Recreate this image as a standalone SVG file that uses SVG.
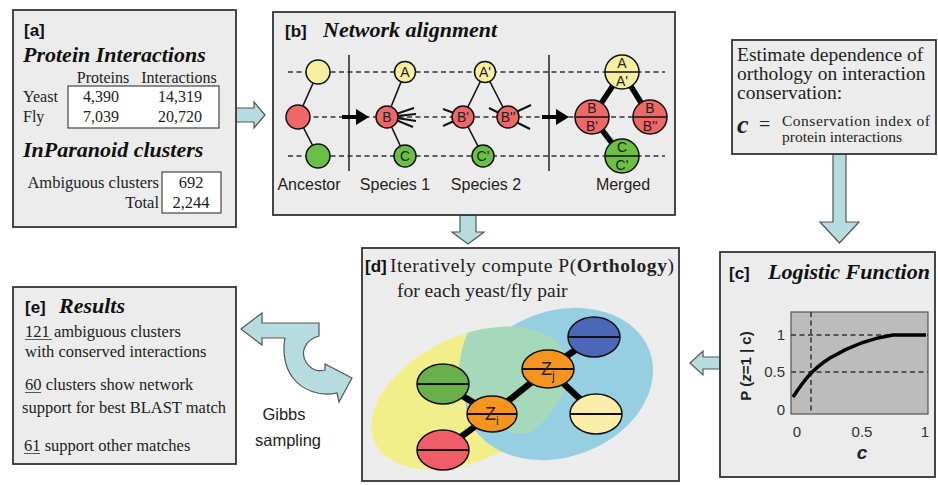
<svg xmlns="http://www.w3.org/2000/svg" width="938" height="485" viewBox="0 0 938 485">
<style>
.panel{fill:#ececec;stroke:#333;stroke-width:1.8}
.ser{font-family:"Liberation Serif","Times New Roman",serif;fill:#222}
.sans{font-family:"Liberation Sans",Arial,sans-serif;fill:#222}
.ttl{font-family:"Liberation Serif","Times New Roman",serif;font-weight:bold;font-style:italic;font-size:22px;fill:#111}
.tag{font-family:"Liberation Sans",Arial,sans-serif;font-weight:bold;font-size:17px;fill:#111}
.tbl{fill:#fff;stroke:#444;stroke-width:1.2}
.barrow{fill:#b7dce0;stroke:#555;stroke-width:1.2}
.dash{stroke:#333;stroke-width:1.5;stroke-dasharray:5 3.5;fill:none}
.thin{stroke:#111;stroke-width:1.6;fill:none}
.stub{stroke:#111;stroke-width:2;fill:none}
.thick{stroke:#000;stroke-width:5.5;fill:none}
.nd{stroke:#111;stroke-width:1.5}
.y{fill:#f6efa0}.r{fill:#ee6868}.g{fill:#6cbf45}
.lbl{font-family:"Liberation Sans",Arial,sans-serif;font-size:14px;fill:#222;text-anchor:middle}
.ax{font-family:"Liberation Sans",Arial,sans-serif;font-size:15px;fill:#333}
</style>
<defs>
<clipPath id="blueclip"><ellipse cx="559" cy="384" rx="96.5" ry="73" transform="rotate(-20 559 384)"/></clipPath>
</defs>
<rect width="938" height="485" fill="#fff"/>

<!-- connectors -->
<g id="connectors">
<polygon class="barrow" points="228,108 254,108 254,102 265,115 254,128 254,122 228,122"/>
<polygon class="barrow" points="460,215 476,215 476,232 484,232 468,244 452,232 460,232"/>
<polygon class="barrow" points="833,154 846,154 846,222 859,222 839.5,243 820,222 833,222"/>
<polygon class="barrow" points="720,357 703,357 703,351 690,363 703,375 703,369 720,369"/>
<path class="barrow" d="M241,329 L262,313 L262,323 L319,323 L319,336 C305,340 300,352 306,362 C311,370 318,372 325,370 L325,364 L352,378 L339,402 L337,393 C320,397 302,390 293,378 C283,365 283,348 285,338 L262,338 L262,345 Z"/>
<text class="sans" x="284" y="420" font-size="16.5" fill="#333" text-anchor="middle">Gibbs</text>
<text class="sans" x="288" y="446" font-size="16.5" fill="#333" text-anchor="middle">sampling</text>
</g>

<!-- panel a -->
<g id="panel-a">
<rect class="panel" x="13" y="10" width="223" height="217"/>
<text class="tag" x="24" y="36">[a]</text>
<text class="ttl" x="23" y="62">Protein Interactions</text>
<text class="ser" x="103" y="83" font-size="16" text-anchor="middle">Proteins</text>
<text class="ser" x="179" y="83" font-size="16" text-anchor="middle">Interactions</text>
<rect class="tbl" x="68" y="86" width="151" height="42"/>
<text class="ser" x="23" y="102" font-size="16">Yeast</text>
<text class="ser" x="23" y="122" font-size="16">Fly</text>
<text class="ser" x="101" y="102" font-size="16" text-anchor="middle">4,390</text>
<text class="ser" x="101" y="122" font-size="16" text-anchor="middle">7,039</text>
<text class="ser" x="180" y="102" font-size="16" text-anchor="middle">14,319</text>
<text class="ser" x="180" y="122" font-size="16" text-anchor="middle">20,720</text>
<text class="ttl" x="23" y="157">InParanoid clusters</text>
<text class="ser" x="159" y="188" font-size="16.5" text-anchor="end">Ambiguous clusters</text>
<text class="ser" x="159" y="208" font-size="16.5" text-anchor="end">Total</text>
<rect class="tbl" x="162" y="172" width="59" height="41"/>
<text class="ser" x="191" y="188" font-size="16.5" text-anchor="middle">692</text>
<text class="ser" x="191" y="208" font-size="16.5" text-anchor="middle">2,244</text>
</g>

<!-- panel b -->
<g id="panel-b">
<rect class="panel" x="273" y="12" width="402" height="203"/>
<text class="tag" x="285" y="37">[b]</text>
<text class="ttl" x="323" y="37">Network alignment</text>
<line class="dash" x1="288" y1="72" x2="665" y2="72"/>
<line class="dash" x1="288" y1="117" x2="665" y2="117"/>
<line class="dash" x1="288" y1="156" x2="665" y2="156"/>
<line x1="349" y1="55" x2="349" y2="171" stroke="#222" stroke-width="1.5"/>
<line x1="549" y1="55" x2="549" y2="171" stroke="#222" stroke-width="1.5"/>
<!-- ancestor -->
<line class="thin" x1="318" y1="72" x2="298" y2="117"/>
<line class="thin" x1="298" y1="117" x2="318" y2="156"/>
<circle class="nd y" cx="318" cy="72" r="12"/>
<circle class="nd r" cx="298" cy="117" r="12"/>
<circle class="nd g" cx="318" cy="156" r="12"/>
<polygon points="342,115 356,115 356,109 369,117 356,125 356,119 342,119" fill="#000"/>
<!-- species 1 -->
<line class="thin" x1="405" y1="72" x2="387" y2="117"/>
<line class="thin" x1="387" y1="117" x2="405" y2="156"/>
<line class="stub" x1="396" y1="114" x2="414" y2="108"/>
<line class="stub" x1="397" y1="116" x2="416" y2="114"/>
<line class="stub" x1="397" y1="118" x2="416" y2="121"/>
<line class="stub" x1="396" y1="120" x2="413" y2="127"/>
<circle class="nd y" cx="405" cy="72" r="10.5"/>
<circle class="nd r" cx="387" cy="117" r="11"/>
<circle class="nd g" cx="405" cy="156" r="11"/>
<text class="lbl" x="405" y="77">A</text>
<text class="lbl" x="387" y="122">B</text>
<text class="lbl" x="405" y="161">C</text>
<!-- species 2 -->
<line class="thin" x1="485" y1="72" x2="463" y2="117"/>
<line class="thin" x1="485" y1="72" x2="508" y2="117"/>
<line class="thin" x1="463" y1="117" x2="483" y2="156"/>
<line class="stub" x1="454" y1="113" x2="443" y2="109"/>
<line class="stub" x1="454" y1="121" x2="443" y2="126"/>
<line class="stub" x1="499" y1="113" x2="489" y2="108"/>
<line class="stub" x1="516" y1="112" x2="531" y2="105"/>
<line class="stub" x1="516" y1="122" x2="530" y2="129"/>
<circle class="nd y" cx="485" cy="72" r="10.5"/>
<circle class="nd r" cx="463" cy="117" r="11"/>
<circle class="nd r" cx="508" cy="117" r="11"/>
<circle class="nd g" cx="483" cy="156" r="11"/>
<text class="lbl" x="485" y="77">A'</text>
<text class="lbl" x="463" y="122">B'</text>
<text class="lbl" x="508" y="122">B''</text>
<text class="lbl" x="483" y="161">C'</text>
<polygon points="542,115 556,115 556,109 569,117 556,125 556,119 542,119" fill="#000"/>
<!-- merged -->
<line class="thick" x1="622" y1="72" x2="592" y2="117"/>
<line class="thick" x1="622" y1="72" x2="650" y2="117"/>
<line class="thick" x1="592" y1="117" x2="622" y2="156"/>
<circle class="nd y" cx="622" cy="72" r="17"/>
<circle class="nd r" cx="592" cy="117" r="17"/>
<circle class="nd r" cx="650" cy="117" r="17"/>
<circle class="nd g" cx="622" cy="156" r="17"/>
<line x1="605" y1="72" x2="639" y2="72" stroke="#111" stroke-width="1.3"/>
<line x1="575" y1="117" x2="609" y2="117" stroke="#111" stroke-width="1.3"/>
<line x1="633" y1="117" x2="667" y2="117" stroke="#111" stroke-width="1.3"/>
<line x1="605" y1="156" x2="639" y2="156" stroke="#111" stroke-width="1.3"/>
<text class="lbl" x="622" y="68">A</text>
<text class="lbl" x="622" y="86">A'</text>
<text class="lbl" x="592" y="113">B</text>
<text class="lbl" x="592" y="131">B'</text>
<text class="lbl" x="650" y="113">B</text>
<text class="lbl" x="650" y="131">B''</text>
<text class="lbl" x="622" y="152">C</text>
<text class="lbl" x="622" y="170">C'</text>
<text class="sans" x="309" y="190" font-size="16" text-anchor="middle">Ancestor</text>
<text class="sans" x="395" y="190" font-size="16" text-anchor="middle">Species 1</text>
<text class="sans" x="486" y="190" font-size="16" text-anchor="middle">Species 2</text>
<text class="sans" x="623" y="190" font-size="16" text-anchor="middle">Merged</text>
</g>

<!-- estimate panel -->
<g id="panel-estimate">
<rect class="panel" x="732" y="40" width="204" height="114"/>
<text class="ser" x="737" y="61" font-size="19.5">Estimate dependence of</text>
<text class="ser" x="737" y="80" font-size="19.5">orthology on interaction</text>
<text class="ser" x="737" y="99" font-size="19.5">conservation:</text>
<text class="ser" x="737" y="133" font-size="26" font-weight="bold" font-style="italic" fill="#111">c</text>
<text class="ser" x="759" y="131" font-size="20">=</text>
<text class="ser" x="782" y="126" font-size="15.5" textLength="148" lengthAdjust="spacing">Conservation index of</text>
<text class="ser" x="782" y="142" font-size="15.5">protein interactions</text>
</g>

<!-- panel c -->
<g id="panel-c">
<rect class="panel" x="720" y="252" width="215" height="225"/>
<text class="tag" x="729" y="279">[c]</text>
<text class="ttl" x="768" y="279">Logistic Function</text>
<rect x="791" y="312" width="137" height="102" fill="#bcbcbc" stroke="#555" stroke-width="1.2"/>
<line class="dash" x1="791" y1="335" x2="928" y2="335" stroke-width="1.2"/>
<line class="dash" x1="791" y1="372" x2="928" y2="372" stroke-width="1.2"/>
<line class="dash" x1="811" y1="312" x2="811" y2="414" stroke-width="1.2"/>
<path d="M793,397 C803,382 811,370 830,358 C850,346 872,338 893,335 L926,335" fill="none" stroke="#000" stroke-width="3.5"/>
<text class="ax" x="785" y="340" text-anchor="end">1</text>
<text class="ax" x="785" y="377" text-anchor="end">0.5</text>
<text class="ax" x="785" y="415" text-anchor="end">0</text>
<text class="ax" x="797" y="437" text-anchor="middle">0</text>
<text class="ax" x="862" y="437" text-anchor="middle">0.5</text>
<text class="ax" x="925" y="437" text-anchor="middle">1</text>
<text class="sans" x="862" y="459" font-size="19" font-weight="bold" font-style="italic" text-anchor="middle">c</text>
<text class="sans" transform="translate(751 366) rotate(-90)" font-size="15" font-weight="bold" text-anchor="middle">P (<tspan font-style="italic">z</tspan>=1 | c)</text>
</g>

<!-- panel d -->
<g id="panel-d">
<rect class="panel" x="362" y="248" width="317" height="233"/>
<text class="tag" x="365" y="272" font-size="16">[d]</text>
<text class="ser" x="390" y="272" font-size="19.5" textLength="284" lengthAdjust="spacing">Iteratively compute P(<tspan font-weight="bold">Orthology</tspan>)</text>
<text class="ser" x="397" y="297" font-size="19.5">for each yeast/fly pair</text>
<ellipse cx="470" cy="398" rx="105" ry="62" transform="rotate(-25 470 398)" fill="#f2ee8a"/>
<ellipse cx="559" cy="384" rx="96.5" ry="73" transform="rotate(-20 559 384)" fill="#97cfe2"/>
<ellipse cx="470" cy="398" rx="105" ry="62" transform="rotate(-25 470 398)" fill="#a6d8bc" clip-path="url(#blueclip)"/>
<g stroke="#000" stroke-width="6.5">
<line x1="443" y1="384" x2="492" y2="414"/>
<line x1="443" y1="450" x2="492" y2="414"/>
<line x1="492" y1="414" x2="548" y2="369"/>
<line x1="548" y1="369" x2="594" y2="337"/>
<line x1="548" y1="369" x2="596" y2="414"/>
</g>
<g class="nd">
<ellipse cx="443" cy="384" rx="26" ry="20" fill="#6ab04a"/>
<ellipse cx="443" cy="450" rx="26" ry="20" fill="#ef5d6a"/>
<ellipse cx="492" cy="414" rx="25" ry="18" fill="#f59520"/>
<ellipse cx="548" cy="369" rx="26" ry="19" fill="#f59520"/>
<ellipse cx="594" cy="337" rx="26" ry="20" fill="#4a67b8"/>
<ellipse cx="596" cy="414" rx="26" ry="20" fill="#f8eeaa"/>
</g>
<g stroke="#111" stroke-width="1.8">
<line x1="417" y1="384" x2="469" y2="384"/>
<line x1="417" y1="450" x2="469" y2="450"/>
<line x1="467" y1="414" x2="517" y2="414"/>
<line x1="522" y1="369" x2="574" y2="369"/>
<line x1="568" y1="337" x2="620" y2="337"/>
<line x1="570" y1="414" x2="622" y2="414"/>
</g>
<text class="sans" x="485" y="420" font-size="18" fill="#222">Z<tspan font-size="12" dy="5">i</tspan></text>
<text class="sans" x="541" y="375" font-size="18" fill="#222">Z<tspan font-size="12" dy="5">j</tspan></text>
</g>

<!-- panel e -->
<g id="panel-e">
<rect class="panel" x="13" y="287" width="223" height="177"/>
<text class="tag" x="25" y="313">[e]</text>
<text class="ttl" x="59" y="313">Results</text>
<g class="ser" font-size="16.5" fill="#333">
<text x="25" y="337">121 ambiguous clusters</text>
<text x="25" y="357">with conserved interactions</text>
<text x="25" y="390">60 clusters show network</text>
<text x="22" y="413">support for best BLAST match</text>
<text x="24" y="451">61 support other matches</text>
</g>
<g stroke="#555" stroke-width="1">
<line x1="25" y1="339.5" x2="52" y2="339.5"/>
<line x1="25" y1="392.5" x2="41" y2="392.5"/>
<line x1="24" y1="453.5" x2="40" y2="453.5"/>
</g>
</g>
</svg>
